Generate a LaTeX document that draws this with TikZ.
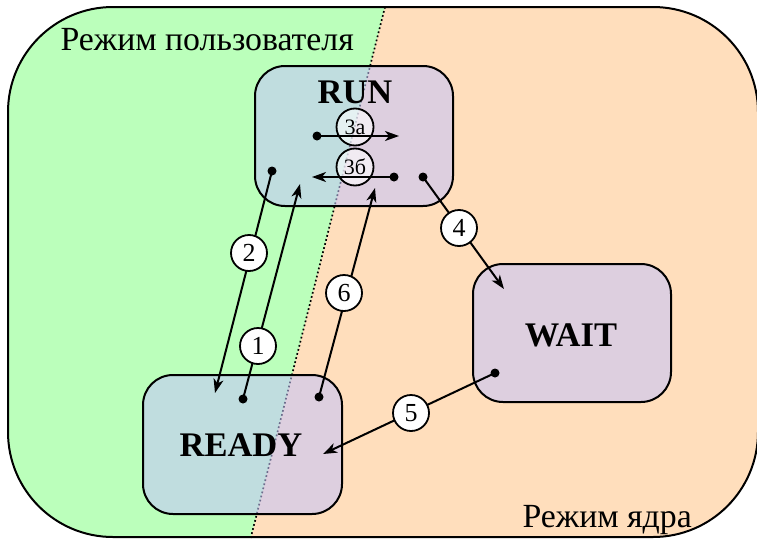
\documentclass[tikz,border=0pt]{standalone}
\usepackage{fontspec}
\setmainfont{Liberation Serif}
\usetikzlibrary{arrows.meta}
\definecolor{usergreen}{RGB}{187,255,187}
\definecolor{kernelorange}{RGB}{255,222,188}
\definecolor{boxfill}{RGB}{196,196,252}
\begin{document}
\begin{tikzpicture}[x=1pt,y=-1pt,
  statebox/.style={draw, line width=2pt, rounded corners=30pt, fill=boxfill, fill opacity=0.56, draw opacity=1, inner sep=0pt},
  statetext/.style={font=\fontsize{34.5}{34.5}\selectfont\bfseries},
  modetext/.style={font=\fontsize{33.8}{33.8}\selectfont, anchor=base west},
  conn/.style={line width=2pt, -{Stealth[length=14pt,width=10pt,inset=4pt]}},
  dotn/.style={circle, fill=black, inner sep=0pt, minimum size=9pt},
  numc/.style={circle, draw, line width=1.8pt, fill=white, minimum size=36pt, inner sep=0pt, font=\fontsize{26}{26}\selectfont},
  subc/.style={circle, draw, line width=1.8pt, fill=white, fill opacity=0.6, text opacity=1, minimum size=37pt, inner sep=0pt, font=\fontsize{22}{22}\selectfont},
  divider/.style={line width=1.7pt, dash pattern=on 1.7pt off 2.5pt}
]
\useasboundingbox (0,0) rectangle (757,538);
% background regions
\begin{scope}
  \clip[rounded corners=105pt] (8,7) rectangle (758,537);
  \fill[kernelorange] (0,0) rectangle (760,540);
  \fill[usergreen] (0,0) -- (386.8,0) -- (250.7,538) -- (0,538) -- cycle;
\end{scope}
\draw[line width=2pt, rounded corners=105pt] (8,7) rectangle (758,537);
% divider
\coordinate (divtop) at (385,7);
\coordinate (divbot) at (250.7,538);
\draw[divider] (divtop) -- (divbot);
% mode labels
\node[modetext] (usermode) at (57,50) {Режим пользователя};
\node[modetext] (kernelmode) at (519,527) {Режим ядра};
% state boxes
\node[statebox, minimum width=198pt, minimum height=140pt] (run) at (354,136) {};
\node[statebox, minimum width=199pt, minimum height=139pt] (ready) at (242.5,444.5) {};
\node[statebox, minimum width=198pt, minimum height=138pt] (wait) at (572,333) {};
\node[statetext, anchor=base] (runlbl) at (355,103) {RUN};
\node[statetext, anchor=base] (readylbl) at (241,456) {READY};
\node[statetext, anchor=base] (waitlbl) at (571,346) {WAIT};
% sub-transition circles
\node[subc] (c3a) at (355,127) {3а};
\node[subc] (c3b) at (355,167) {3б};
% dots and tips
\node[dotn] (d2) at (272,171) {};
\coordinate (t2) at (215,393);
\node[dotn] (d1) at (243,399) {};
\coordinate (t1) at (300,184);
\node[dotn] (d6) at (319,397) {};
\coordinate (t6) at (375,188);
\node[dotn] (d4) at (423,177) {};
\coordinate (t4) at (504,289);
\node[dotn] (d5) at (495,373) {};
\coordinate (t5) at (323,454);
\node[dotn] (d3a) at (317,136) {};
\coordinate (t3a) at (399,136);
\node[dotn] (d3b) at (394,177) {};
\coordinate (t3b) at (312,177);
% connectors
\draw[conn] (d2.center) -- (t2);
\draw[conn] (d1.center) -- (t1);
\draw[conn] (d6.center) -- (t6);
\draw[conn] (d4.center) -- (t4);
\draw[conn] (d5.center) -- (t5);
\draw[conn] (d3a.center) -- (t3a);
\draw[conn] (d3b.center) -- (t3b);
% number circles
\node[numc] (n2) at (249,253) {2};
\node[numc] (n1) at (258,346) {1};
\node[numc] (n6) at (344,293) {6};
\node[numc] (n4) at (459,228) {4};
\node[numc] (n5) at (411,413) {5};
\end{tikzpicture}
\end{document}
